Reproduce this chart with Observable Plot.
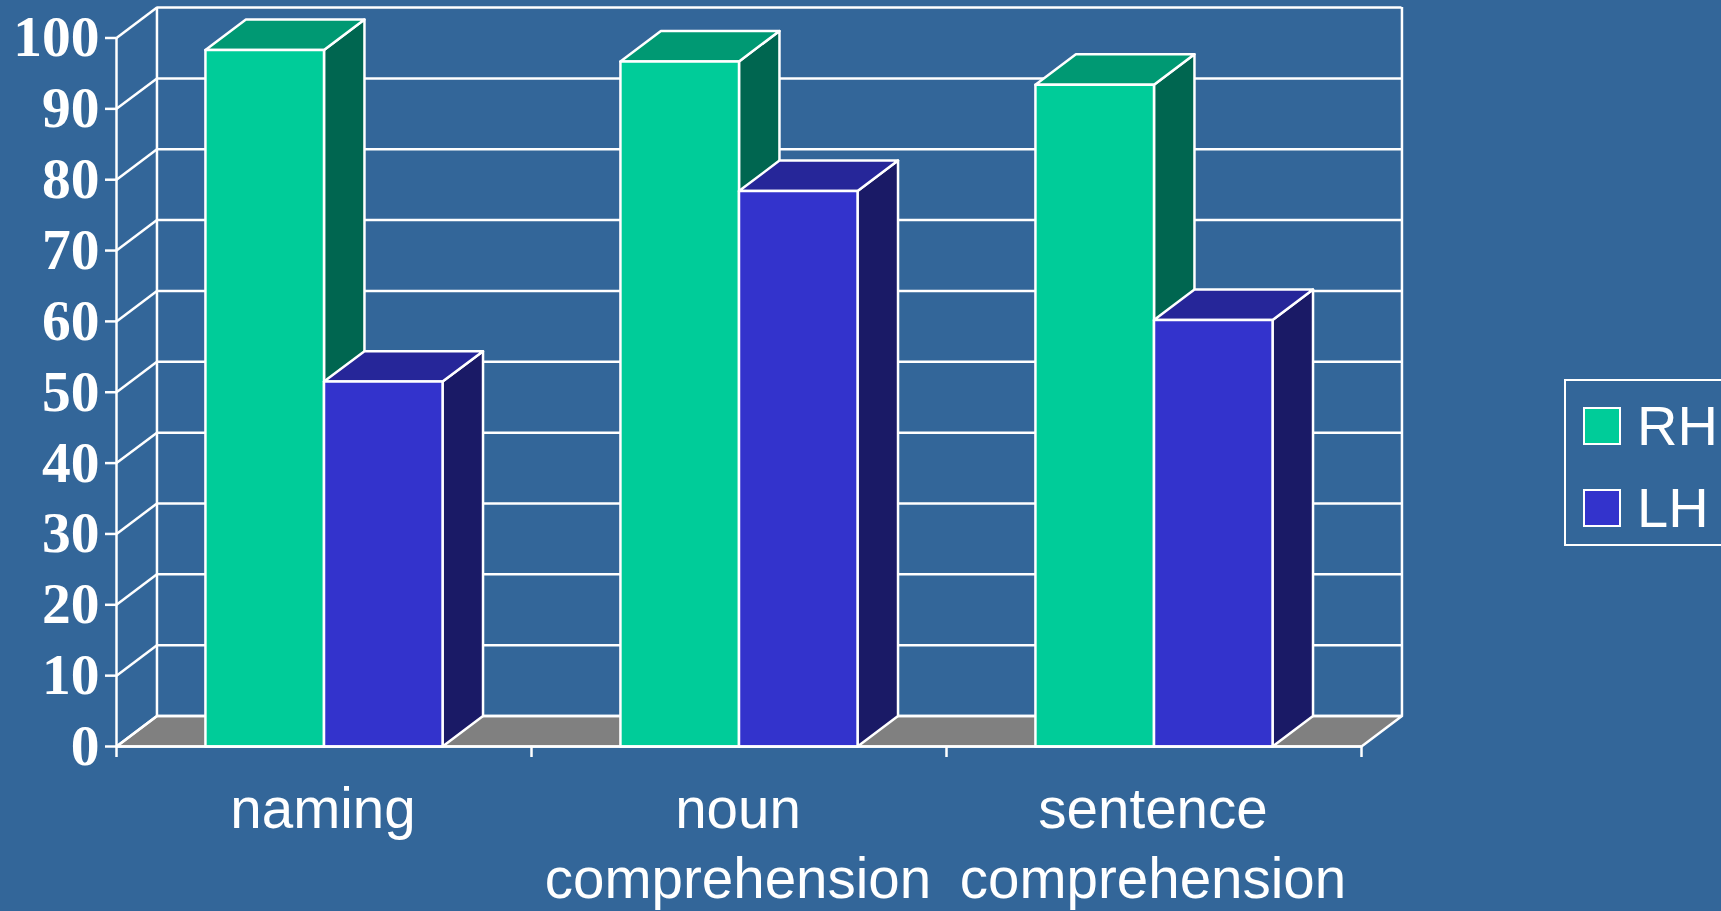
<!DOCTYPE html>
<html>
<head>
<meta charset="utf-8">
<script src="https://cdn.jsdelivr.net/npm/d3@7"></script>
<script src="https://cdn.jsdelivr.net/npm/@observablehq/plot@0.6"></script>
<style>
  html, body { margin: 0; padding: 0; background: #336699; width: 1721px; height: 911px; overflow: hidden; }
  #wrap { display: flex; align-items: flex-start; width: 1721px; height: 911px; overflow: hidden; }
  #wrap svg { flex: none; background: transparent; display: block; }
  .legend { flex: none; box-sizing: border-box; width: 200px; height: 167px; margin-top: 379px; margin-left: -1px;
            border: 2px solid #fff; padding: 4px 0 0 17px; color: #fff;
            font: 56px/82px "Liberation Sans", Arial, sans-serif; }
  .legend .row { display: flex; align-items: center; height: 82px; }
  .legend .swatch { box-sizing: border-box; width: 38px; height: 38px; border: 2px solid #fff; margin-right: 16px; }
</style>
</head>
<body>
<div id="wrap"></div>
<script>
// Mean scores per task and hemisphere group
const categories = [["naming"], ["noun", "comprehension"], ["sentence", "comprehension"]];
const series = ["RH", "LH"];
const rhValues = [98.3, 96.7, 93.4];
const lhValues = [51.5, 78.4, 60.2];
const yTicks = [0, 10, 20, 30, 40, 50, 60, 70, 80, 90, 100];

// Face shades of each series
const palette = {
  RH: {front: "#00cc99", top: "#009973", side: "#006650"},
  LH: {front: "#3333cc", top: "#262699", side: "#1a1a66"}
};
const wallFloor = "#808080";

// Extrusion of the box, expressed in scale units
const depthX = 0.0975;
const depthY = 4.3;
const barWidth = 0.2857;

const values = {RH: rhValues, LH: lhValues};
const faces = [];
function addFace(id, fill, corners) {
  for (const [x, y] of [...corners, corners[0]]) faces.push({id, fill, x, y});
}
categories.forEach((_, i) => {
  series.forEach((s, k) => {
    const x1 = i + 0.5 + (k - 1) * barWidth;
    const x2 = x1 + barWidth;
    const v = values[s][i];
    const c = palette[s];
    addFace(`${s}${i}side`, c.side, [[x2, 0], [x2 + depthX, depthY], [x2 + depthX, v + depthY], [x2, v]]);
    addFace(`${s}${i}top`, c.top, [[x1, v], [x2, v], [x2 + depthX, v + depthY], [x1 + depthX, v + depthY]]);
    addFace(`${s}${i}front`, c.front, [[x1, 0], [x2, 0], [x2, v], [x1, v]]);
  });
});

const floor = [];
[[0, 0], [3, 0], [3 + depthX, depthY], [depthX, depthY], [0, 0]].forEach(([x, y]) => floor.push({x, y}));

const labelLines = categories.flatMap((lines, i) =>
  lines.map((text, line) => ({text, x: i + 0.5, line})));

const white = "#ffffff";
const line = {stroke: white, strokeWidth: 2.5};

const chart = Plot.plot({
  width: 1565,
  height: 911,
  marginLeft: 116,
  marginRight: 204,
  marginTop: 37.5,
  marginBottom: 165,
  x: {domain: [0, 3], axis: null},
  y: {domain: [0, 100], axis: null},
  color: {type: "identity"},
  style: {background: "transparent", color: white},
  marks: [
    // Floor and walls
    Plot.line(floor, {x: "x", y: "y", fill: wallFloor, ...line}),
    Plot.ruleY(yTicks, {y: (d) => d + depthY, x1: depthX, x2: 3 + depthX, ...line}),
    Plot.link(yTicks, {x1: () => 0, y1: (d) => d, x2: () => depthX, y2: (d) => d + depthY, ...line}),
    Plot.ruleX([depthX, 3 + depthX], {y1: depthY, y2: 100 + depthY, ...line}),
    Plot.ruleX([0], {y1: 0, y2: 100, ...line}),

    // Extruded bars, back faces first
    Plot.line(faces, {x: "x", y: "y", z: "id", fill: "fill", ...line, strokeLinejoin: "round"}),
    Plot.ruleY([0], {x1: 0, x2: 3, ...line}),

    // Axes
    Plot.axisY({
      ticks: yTicks, tickSize: 11, tickPadding: 6, label: null, color: white, strokeWidth: 2.5,
      fontFamily: "'Liberation Serif', 'Times New Roman', serif", fontWeight: "bold", fontSize: 57.5
    }),
    Plot.axisX({
      ticks: [0, 1, 2, 3], tickSize: 11, tickFormat: () => "", label: null, color: white, strokeWidth: 2.5
    }),
    Plot.text(labelLines.filter((d) => d.line === 0), {
      x: "x", y: () => 0, text: "text", dy: 63, dx: -1, fill: white, textAnchor: "middle",
      fontFamily: "'Liberation Sans', Arial, sans-serif", fontSize: 56.5
    }),
    Plot.text(labelLines.filter((d) => d.line === 1), {
      x: "x", y: () => 0, text: "text", dy: 133, dx: -1, fill: white, textAnchor: "middle",
      fontFamily: "'Liberation Sans', Arial, sans-serif", fontSize: 56.5
    })
  ]
});

const legend = document.createElement("div");
legend.className = "legend";
for (const s of series) {
  const row = document.createElement("div");
  row.className = "row";
  const swatch = document.createElement("div");
  swatch.className = "swatch";
  swatch.style.background = palette[s].front;
  const label = document.createElement("span");
  label.textContent = s;
  row.append(swatch, label);
  legend.append(row);
}

document.getElementById("wrap").append(chart, legend);
</script>
</body>
</html>
